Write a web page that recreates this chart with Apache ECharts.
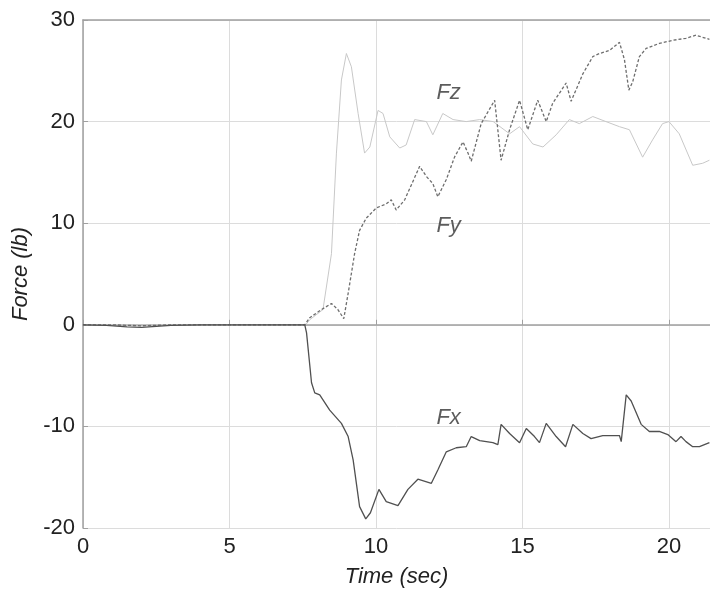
<!DOCTYPE html>
<html><head><meta charset="utf-8">
<script src="https://cdn.jsdelivr.net/npm/echarts@6/dist/echarts.min.js"></script>
<style>html,body{margin:0;padding:0;background:#fff}#c{width:710px;height:593px}</style>
</head><body><div id="c"></div>
<script>
// Time (sec) / Force (lb) samples
const fxT = [0,0.8,1.5,2.0,2.5,3.0,4.0,5.0,6.0,7.0,7.57,7.63,7.8,7.91,8.08,8.42,8.82,9.05,9.22,9.44,9.65,9.81,10.1,10.35,10.75,11.09,11.43,11.89,12.11,12.4,12.74,13.08,13.25,13.54,13.99,14.16,14.27,14.56,14.9,15.13,15.41,15.58,15.81,16.15,16.47,16.72,17.06,17.34,17.74,18.31,18.37,18.54,18.71,19.05,19.33,19.67,19.96,20.24,20.41,20.58,20.81,21.04,21.38];
const fxV = [0,-0.05,-0.2,-0.25,-0.15,-0.05,0,0,0,0,0,-0.8,-5.7,-6.7,-6.9,-8.4,-9.7,-11.0,-13.3,-17.9,-19.1,-18.5,-16.2,-17.4,-17.8,-16.2,-15.2,-15.6,-14.3,-12.5,-12.1,-12.0,-11.0,-11.4,-11.6,-11.8,-9.8,-10.7,-11.6,-10.2,-11.0,-11.6,-9.7,-11.0,-12.0,-9.8,-10.7,-11.2,-10.9,-10.9,-11.5,-6.9,-7.5,-9.8,-10.5,-10.5,-10.8,-11.5,-11.0,-11.5,-12.0,-12.0,-11.6];

const fyT = [0,1.0,2.0,3.0,4.0,5.0,6.0,7.0,7.57,7.74,8.14,8.48,8.7,8.9,9.05,9.27,9.44,9.67,10.01,10.35,10.52,10.69,10.98,11.49,11.72,11.94,12.11,12.4,12.68,12.97,13.14,13.25,13.59,14.05,14.27,14.56,14.9,15.18,15.52,15.81,16.03,16.49,16.66,17.06,17.4,17.63,17.97,18.31,18.48,18.63,18.76,18.99,19.22,19.67,20.13,20.58,20.92,21.38];
const fyV = [0,0,-0.1,0,0,0,0,0,0,0.7,1.5,2.1,1.5,0.6,3.1,7.0,9.3,10.5,11.5,11.9,12.3,11.3,12.3,15.6,14.6,13.9,12.6,14.3,16.5,18.0,16.9,16.1,19.8,22.1,16.2,19.2,22.1,19.2,22.1,20.0,21.8,23.8,22.0,24.7,26.4,26.7,27.0,27.8,26.1,23.1,23.9,26.4,27.2,27.7,28.0,28.2,28.5,28.1];

const fzT = [0,1.0,2.0,3.0,4.0,5.0,6.0,7.0,7.6,7.74,8.19,8.48,8.65,8.82,8.99,9.16,9.39,9.61,9.79,10.07,10.24,10.47,10.81,11.03,11.32,11.72,11.94,12.28,12.63,13.08,13.54,14.0,14.56,14.9,15.35,15.7,16.15,16.6,16.94,17.4,17.85,18.31,18.65,19.1,19.44,19.78,20.0,20.35,20.81,21.15,21.38];
const fzV = [0,0,0,0,0,0,0,0,0,0.5,1.5,7.0,16.9,24.1,26.7,25.4,20.8,16.9,17.5,21.1,20.8,18.5,17.4,17.7,20.2,20.0,18.7,20.8,20.2,20.0,20.2,20.0,18.8,19.5,17.8,17.5,18.7,20.2,19.8,20.5,20.0,19.5,19.2,16.5,18.2,19.8,20.0,18.8,15.7,15.9,16.2];

const seriesNames = ['Fx','Fy','Fz'];
const labelX = [12.48, 12.48, 12.48];
const labelY = [-9.2, 9.7, 22.8];

const xTicks = [0,5,10,15,20];
const yTicks = [-20,-10,0,10,20,30];

function pairs(t, v){ return t.map((x,i)=>[x, v[i]]); }

const chart = echarts.init(document.getElementById('c'), null, {renderer:'canvas'});
const font = "'Liberation Sans', Arial, sans-serif";
const axisCol = '#a0a0a0';
chart.setOption({
  animation:false,
  backgroundColor:'#fff',
  grid:{left:83, right:0, top:20, bottom:65, show:false, containLabel:false, outerBoundsMode:'none'},
  xAxis:[{type:'value', min:0, max:21.4, interval:5, position:'bottom',
    name:'Time (sec)', nameLocation:'middle', nameGap:38,
    nameTextStyle:{fontFamily:font, fontStyle:'italic', fontSize:22, color:'#222'},
    axisLine:{lineStyle:{color:axisCol, width:1.5}},
    axisTick:{inside:true, length:5, customValues:xTicks, lineStyle:{color:axisCol}},
    axisLabel:{fontFamily:font, fontSize:22, color:'#222', margin:8, customValues:xTicks},
    splitLine:{show:true, lineStyle:{color:'#dcdcdc', width:1}}},
   {type:'value', min:0, max:21.4, interval:5, position:'top',
    axisLine:{show:true, lineStyle:{color:axisCol, width:1.5}},
    axisTick:{show:false}, axisLabel:{show:false}, splitLine:{show:false}}],
  yAxis:{type:'value', min:-20, max:30, interval:10,
    name:'Force (lb)', nameLocation:'middle', nameGap:50, nameRotate:90,
    nameTextStyle:{fontFamily:font, fontStyle:'italic', fontSize:22, color:'#222'},
    axisLine:{lineStyle:{color:axisCol, width:1.5}},
    axisTick:{inside:true, length:5, lineStyle:{color:axisCol}},
    axisLabel:{fontFamily:font, fontSize:22, color:'#222', margin:8,
      formatter:v=> yTicks.includes(v) ? String(v) : ''},
    splitLine:{show:true, lineStyle:{color:'#dcdcdc', width:1}}},
  series:[
    {name:'Fz', type:'line', data:pairs(fzT,fzV), showSymbol:false, z:2,
      lineStyle:{color:'#c8c8c8', width:1}},
    {name:'Fy', type:'line', data:pairs(fyT,fyV), showSymbol:false, z:3,
      lineStyle:{color:'#6e6e6e', width:1.3, type:[3,2]}},
    {name:'Fx', type:'line', data:pairs(fxT,fxV), showSymbol:false, z:4,
      lineStyle:{color:'#505050', width:1.3}},
    {name:'labels', type:'scatter', symbolSize:0, z:5,
      data:seriesNames.map((n,i)=>({value:[labelX[i], labelY[i]], name:n})),
      label:{show:true, position:'inside', formatter:p=>p.name,
        fontFamily:font, fontStyle:'italic', fontSize:22, color:'#333'}}
  ]
});
</script></body></html>
